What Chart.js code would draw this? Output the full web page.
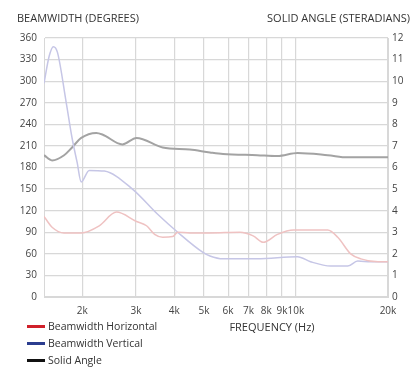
<!DOCTYPE html>
<html>
<head>
<meta charset="utf-8">
<script src="https://cdn.jsdelivr.net/npm/chart.js@4"></script>
<style>
  html, body { margin: 0; padding: 0; background: #fff; }
  #wrap { position: relative; width: 420px; height: 371px; font-family: "Open Sans", "Noto Sans", sans-serif; color: #333; }
  #myChart { position: absolute; left: 0; top: 0; }
  .lbl { position: absolute; font-size: 11px; white-space: nowrap; }
  .leg { position: absolute; left: 27px; font-size: 10.5px; white-space: nowrap; }
  .leg i { display: inline-block; width: 18px; height: 3px; vertical-align: middle; margin-right: 3px; position: relative; top: -1px; }
</style>
</head>
<body>
<div id="wrap">
  <canvas id="myChart" width="420" height="371"></canvas>
  <div class="lbl" style="left:17px; top:10px;">BEAMWIDTH (DEGREES)</div>
  <div class="lbl" style="right:10px; top:10px;">SOLID ANGLE (STERADIANS)</div>
  <div class="lbl" style="left:272px; top:319px; transform:translateX(-50%);">FREQUENCY (Hz)</div>
  <div class="leg" style="top:319px;"><i style="background:#d0202a"></i>Beamwidth Horizontal</div>
  <div class="leg" style="top:336px;"><i style="background:#2b3d8f"></i>Beamwidth Vertical</div>
  <div class="leg" style="top:353px;"><i style="background:#111"></i>Solid Angle</div>
</div>
<script>
(function() {
    'use strict';

    // beamwidth horizontal (degrees)
    const hFreq = [1500, 1523, 1594, 1745, 1985, 2274, 2588, 3010, 3247, 3450, 3666, 3954, 4106, 4498, 5234, 6563, 7246, 7818, 8700, 9820, 12700, 13700, 15100, 16300, 18540, 20000];
    const hDeg  = [112, 108, 97, 89, 89, 99, 118, 105, 99, 87, 83, 84, 90, 89, 89, 90, 85, 76, 87, 93, 93, 83, 60, 53, 49, 49];

    // beamwidth vertical (degrees)
    const vFreq = [1500, 1560, 1610, 1660, 1772, 1853, 1925, 1985, 2108, 2363, 2920, 3530, 4106, 4966, 5234, 5774, 7470, 10120, 11160, 12990, 14770, 15920, 17580, 20000];
    const vDeg  = [297, 335, 348, 340, 271, 221, 187, 160, 176, 175, 150, 115, 90, 62, 57, 53, 53, 56, 49, 43, 43, 50, 49, 49];

    // solid angle (steradians)
    const sFreq = [1500, 1594, 1745, 1853, 1985, 2224, 2328, 2707, 3010, 3666, 4498, 5234, 5774, 7470, 8700, 10120, 12700, 14770, 20000];
    const sSr   = [6.57, 6.33, 6.57, 6.93, 7.37, 7.6, 7.53, 7.07, 7.37, 6.93, 6.83, 6.7, 6.63, 6.57, 6.53, 6.67, 6.57, 6.47, 6.47];

    const freqTicks = [2000, 3000, 4000, 5000, 6000, 7000, 8000, 9000, 10000, 20000];

    const pts = (xs, ys) => xs.map((x, i) => ({ x: x, y: ys[i] }));
    const tickFont = { family: '"Open Sans", "Noto Sans", sans-serif', size: 10 };
    const gridColor = '#d8d8d8';

    const ctx = document.getElementById('myChart');

    new Chart(ctx, {
        type: 'line',
        data: {
            datasets: [{
                label: 'Beamwidth Horizontal',
                data: pts(hFreq, hDeg),
                borderColor: '#efc2c2',
                borderWidth: 1.5,
                yAxisID: 'yDeg'
            }, {
                label: 'Beamwidth Vertical',
                data: pts(vFreq, vDeg),
                borderColor: '#c6c6e6',
                borderWidth: 1.5,
                yAxisID: 'yDeg'
            }, {
                label: 'Solid Angle',
                data: pts(sFreq, sSr),
                borderColor: '#a3a3a3',
                borderWidth: 2,
                yAxisID: 'ySr'
            }]
        },
        options: {
            responsive: false,
            animation: false,
            events: [],
            layout: { padding: { top: 38, left: 0, right: 0, bottom: 0 } },
            elements: {
                point: { radius: 0 },
                line: { cubicInterpolationMode: 'monotone', fill: false }
            },
            plugins: {
                legend: { display: false },
                tooltip: { enabled: false }
            },
            scales: {
                x: {
                    type: 'logarithmic',
                    min: 1500,
                    max: 20000,
                    afterBuildTicks: (s) => { s.ticks = freqTicks.map(v => ({ value: v })); },
                    afterFit: (s) => { s.height = 74; },
                    ticks: {
                        autoSkip: false,
                        maxRotation: 0,
                        padding: 8,
                        color: '#444',
                        font: tickFont,
                        callback: (v) => (v / 1000) + 'k'
                    },
                    grid: { color: gridColor, lineWidth: 1.2, drawTicks: false },
                    border: { color: gridColor }
                },
                yDeg: {
                    position: 'left',
                    min: 0,
                    max: 360,
                    afterFit: (s) => { s.width = 44; },
                    ticks: { stepSize: 30, padding: 7, color: '#444', font: tickFont },
                    grid: { color: gridColor, lineWidth: 1.2, drawTicks: false },
                    border: { color: gridColor }
                },
                ySr: {
                    position: 'right',
                    min: 0,
                    max: 12,
                    afterFit: (s) => { s.width = 32; },
                    ticks: { stepSize: 1, padding: 4, color: '#444', font: tickFont },
                    grid: { display: false, drawTicks: false },
                    border: { color: gridColor }
                }
            }
        }
    });

})();
</script>
</body>
</html>
